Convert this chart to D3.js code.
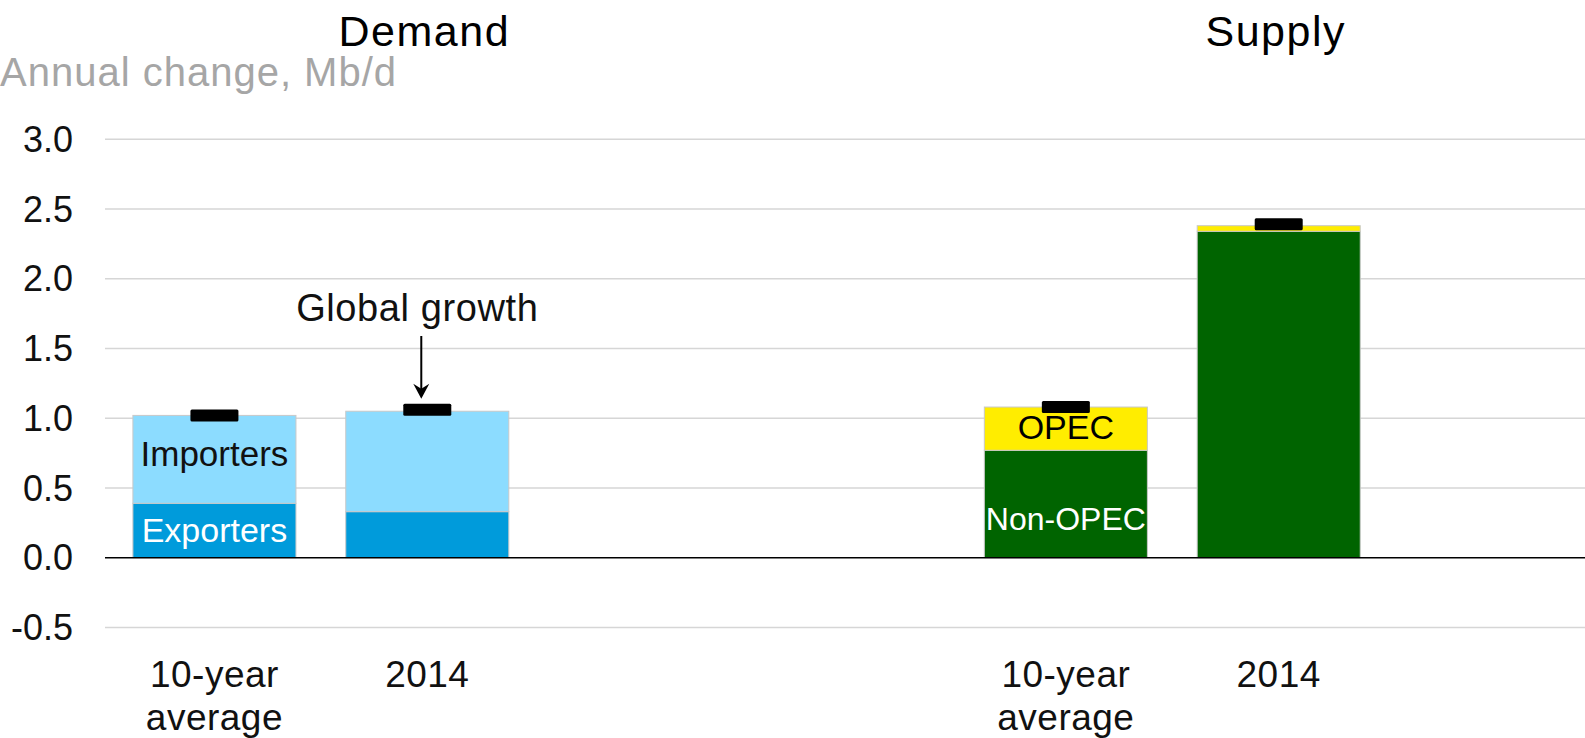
<!DOCTYPE html>
<html>
<head>
<meta charset="utf-8">
<script src="https://cdn.jsdelivr.net/npm/d3@7"></script>
<style>
  html, body { margin: 0; padding: 0; background: #fff; }
  svg { display: block; font-family: "Liberation Sans", Arial, sans-serif; }
</style>
</head>
<body>
<svg id="chart" width="1585" height="738"></svg>
<script>
// ---- data ----
const groups = ["Demand", "Supply"];
const periods = ["10-year average", "2014"];
const periodLabels = [["10-year", "average"], ["2014"]];
const demandExporters = [0.39, 0.33];
const demandImporters = [0.63, 0.72];
const demandGlobal = [1.02, 1.06];
const supplyNonOpec = [0.77, 2.34];
const supplyOpec = [0.31, 0.04];
const supplyGlobal = [1.08, 2.39];
const yTicks = [-0.5, 0.0, 0.5, 1.0, 1.5, 2.0, 2.5, 3.0];
const yAxisTitle = "Annual change, Mb/d";
const annotation = "Global growth";

// ---- layout ----
const W = 1585, H = 738;
const svg = d3.select("#chart");
svg.append("rect").attr("width", W).attr("height", H).attr("fill", "#fff");

const keys = [
  "Demand|" + periods[0], "Demand|" + periods[1], "_gap1", "_gap2",
  "Supply|" + periods[0], "Supply|" + periods[1], "_gap3"
];
const x = d3.scaleBand().domain(keys).range([108, 1598])
  .paddingInner(0.234).paddingOuter(0.117);
const y = d3.scaleLinear().domain([-0.5, 3.0]).range([627.45, 139.2]);

// gridlines
svg.append("g").selectAll("line").data(yTicks.filter(d => d !== 0)).join("line")
  .attr("x1", 105).attr("x2", W)
  .attr("y1", d => y(d)).attr("y2", d => y(d))
  .attr("stroke", "#d6d6d6").attr("stroke-width", 1.5);

// y tick labels
const fmt = d => d3.format(".1f")(d).replace("\u2212", "-");
svg.append("g").selectAll("text").data(yTicks).join("text")
  .attr("x", 73).attr("y", d => y(d))
  .attr("dy", "0.35em")
  .attr("text-anchor", "end")
  .attr("font-size", 36).attr("fill", "#111")
  .text(fmt);

// axis title
svg.append("text").attr("x", 0).attr("y", 86)
  .attr("font-size", 40).attr("letter-spacing", 1).attr("fill", "#a6a6a6").text(yAxisTitle);

// stacked series
const series = [
  { group: "Demand", lower: demandExporters, upper: demandImporters, global: demandGlobal,
    lowerColor: "#009bdb", upperColor: "#8cdcff" },
  { group: "Supply", lower: supplyNonOpec, upper: supplyOpec, global: supplyGlobal,
    lowerColor: "#006400", upperColor: "#ffed00" }
];

const bw = x.bandwidth();
series.forEach(s => {
  periods.forEach((p, i) => {
    const key = s.group + "|" + p;
    const x0 = x(key);
    const lo = s.lower[i], hi = s.lower[i] + s.upper[i];
    svg.append("rect").attr("x", x0).attr("width", bw)
      .attr("y", y(lo)).attr("height", y(0) - y(lo))
      .attr("fill", s.lowerColor).attr("stroke", "#c8c8c8").attr("stroke-width", 1);
    svg.append("rect").attr("x", x0).attr("width", bw)
      .attr("y", y(hi)).attr("height", y(lo) - y(hi))
      .attr("fill", s.upperColor).attr("stroke", "#c8c8c8").attr("stroke-width", 1);
  });
});

// zero line
svg.append("line").attr("x1", 105).attr("x2", W)
  .attr("y1", y(0)).attr("y2", y(0))
  .attr("stroke", "#000").attr("stroke-width", 1.5);

// global growth markers
series.forEach(s => {
  periods.forEach((p, i) => {
    const cx = x(s.group + "|" + p) + bw / 2;
    svg.append("rect").attr("x", cx - 24).attr("width", 48)
      .attr("y", y(s.global[i]) - 6).attr("height", 12)
      .attr("rx", 1.5)
      .attr("fill", "#000");
  });
});

// group titles
groups.forEach(g => {
  svg.append("text").attr("x", x(g + "|" + periods[1]) + bw / 2 - 3).attr("y", 46)
    .attr("text-anchor", "middle").attr("font-size", 43).attr("letter-spacing", 1.5)
    .attr("fill", "#000").text(g);
});

// x labels
groups.forEach(g => {
  periods.forEach((p, i) => {
    const cx = x(g + "|" + p) + bw / 2;
    const t = svg.append("text")
      .attr("x", cx)
      .attr("y", 687)
      .attr("text-anchor", "middle").attr("font-size", 37).attr("letter-spacing", 0.5)
      .attr("fill", "#111");
    periodLabels[i].forEach((line, j) => {
      t.append("tspan").attr("x", cx)
        .attr("dy", j === 0 ? 0 : 43).text(line);
    });
  });
});

// in-bar labels
const inLabels = [
  { key: "Demand|" + periods[0], v: demandExporters[0] + demandImporters[0] / 2 + 0.04, text: "Importers", fill: "#111", size: 35 },
  { key: "Demand|" + periods[0], v: demandExporters[0] / 2, text: "Exporters", fill: "#fff", size: 34 },
  { key: "Supply|" + periods[0], v: supplyNonOpec[0] + supplyOpec[0] / 2 + 0.01, text: "OPEC", fill: "#000", size: 34 },
  { key: "Supply|" + periods[0], v: supplyNonOpec[0] / 2 - 0.105, text: "Non-OPEC", fill: "#fff", size: 32 }
];
svg.append("g").selectAll("text").data(inLabels).join("text")
  .attr("x", d => x(d.key) + bw / 2)
  .attr("y", d => y(d.v))
  .attr("dy", "0.35em")
  .attr("text-anchor", "middle").attr("font-size", d => d.size)
  .attr("fill", d => d.fill).text(d => d.text);

// annotation + arrow
const ax = x("Demand|" + periods[1]) + bw / 2 - 6;
svg.append("text").attr("x", ax - 4).attr("y", 321)
  .attr("text-anchor", "middle").attr("font-size", 38).attr("letter-spacing", 0.6)
  .attr("fill", "#111").text(annotation);
const tipY = y(demandGlobal[1]) - 11;
svg.append("line").attr("x1", ax).attr("x2", ax).attr("y1", 336).attr("y2", tipY - 4)
  .attr("stroke", "#000").attr("stroke-width", 2);
svg.append("path")
  .attr("d", `M${ax - 8},${tipY - 15} L${ax},${tipY} L${ax + 8},${tipY - 15} L${ax},${tipY - 10} Z`)
  .attr("fill", "#000");
</script>
</body>
</html>
